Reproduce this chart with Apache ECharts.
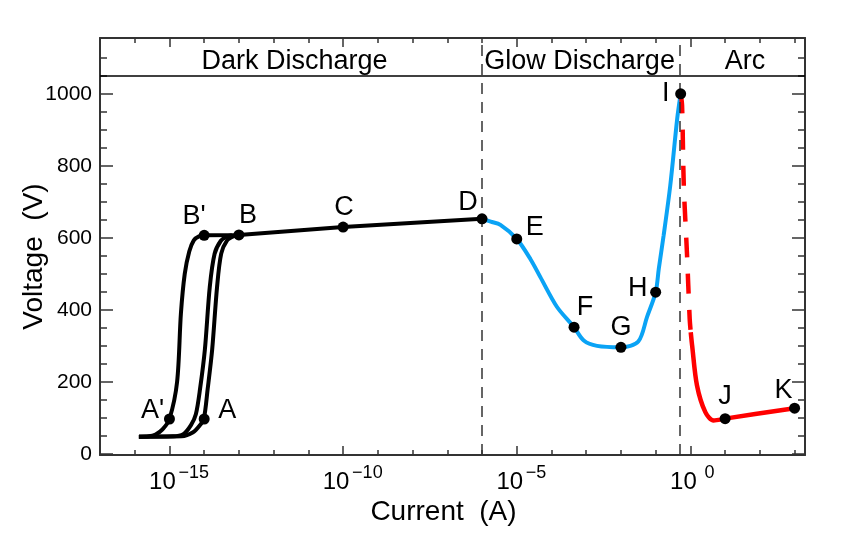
<!DOCTYPE html>
<html>
<head>
<meta charset="utf-8">
<script src="https://cdn.jsdelivr.net/npm/echarts@6/dist/echarts.min.js"></script>
<style>
html, body { margin: 0; padding: 0; background: #fff; }
#chart { width: 844px; height: 549px; }
</style>
</head>
<body>
<div id="chart"></div>
<script>
// x values are log10 of the current (A), y values are volts
var curveLeft = [[-15.88, 48], [-15.6, 49], [-15.4, 54], [-15.2, 68], [-15.0, 97], [-14.78, 200],
    [-14.67, 390], [-14.56, 500], [-14.43, 562], [-14.3, 593], [-14.15, 604], [-14.0, 607]];
var curveMid = [[-15.88, 48], [-14.9, 49], [-14.6, 55], [-14.38, 80], [-14.24, 110], [-14.12, 180],
    [-13.98, 290], [-13.84, 463], [-13.7, 556], [-13.52, 592], [-13.36, 603], [-13.2, 607]];
var curveRight = [[-15.88, 48], [-14.65, 49], [-14.32, 60], [-14.12, 80], [-14.01, 97], [-13.9, 180],
    [-13.77, 290], [-13.63, 463], [-13.51, 556], [-13.34, 593], [-13.15, 605], [-13.0, 608]];
var darkLine = [[-14, 607], [-13, 608], [-10, 630], [-6, 653]];
var glowCurve = [[-6.0, 653], [-5.75, 645], [-5.47, 636], [-5.0, 597], [-4.6, 540], [-4.32, 491],
    [-3.84, 408], [-3.35, 352], [-3.07, 315], [-2.69, 300], [-2.0, 296], [-1.5, 312], [-1.25, 380],
    [-1.0, 449], [-0.91, 514], [-0.77, 607], [-0.58, 745], [-0.38, 931], [-0.28, 1000]];
var arcDashed = [[-0.28, 1000], [-0.24, 968], [-0.19, 745], [-0.1, 560], [-0.02, 375], [0.01, 338]];
var arcSolid = [[0.01, 338], [0.05, 301], [0.19, 190], [0.43, 116], [0.67, 93], [1.0, 98], [3.0, 127]];

var pointNames = ["A'", 'A', "B'", 'B', 'C', 'D', 'E', 'F', 'G', 'H', 'I', 'J', 'K'];
var pointX = [-15, -14, -14, -13, -10, -6, -5, -3.35, -2, -1, -0.28, 1, 3];
var pointY = [97, 97, 607, 608, 630, 653, 597, 352, 296, 449, 1000, 98, 127];

var regionNames = ['Dark Discharge', 'Glow Discharge', 'Arc'];
var regionX = [-11.4, -3.19, 1.57];
var regionY = [1090, 1090, 1090];
var regionBounds = [-6, -0.3];
var headerLevel = [1050];

var xLabelExps = [-15, -10, -5, 0];
var xTickExps = [-16, -15, -14, -13, -12, -11, -10, -9, -8, -7, -6, -5, -4, -3, -2, -1, 0, 1, 2, 3];
var yMajor = [0, 200, 400, 600, 800, 1000];
var yMinor = [50, 100, 150, 250, 300, 350, 450, 500, 550, 650, 700, 750, 850, 900, 950, 1050, 1100];

var FONT = 'Liberation Sans';
var FRAME = '#333';

// where each point label sits relative to its dot (px)
var labelOffset = {
    "A'": [-17, -8], 'A': [23, -8], "B'": [-10, -19], 'B': [9, -19], 'C': [1, -20],
    'D': [-14, -16], 'E': [18, -11], 'F': [11, -20], 'G': [0, -20], 'H': [-18, -4],
    'I': [-15, 0], 'J': [0, -22], 'K': [-11, -18]
};

function xAxisDef(pos, showLine, ticks, len, label) {
    return {
        type: 'value', min: -17, max: 3.3, position: pos,
        axisLine: { show: showLine, onZero: false, lineStyle: { color: FRAME, width: 2 } },
        axisTick: { show: true, inside: true, length: len, customValues: ticks,
            lineStyle: { color: FRAME, width: 1.5 } },
        axisLabel: label || { show: false },
        splitLine: { show: false }
    };
}

function yAxisDef(pos, showLine, ticks, len, labels) {
    return {
        type: 'value', min: -3, max: 1155, position: pos,
        axisLine: { show: showLine, onZero: false, lineStyle: { color: FRAME, width: 2 } },
        axisTick: { show: true, inside: true, length: len, customValues: ticks,
            lineStyle: { color: FRAME, width: 1.5 } },
        axisLabel: labels ? {
            show: true, margin: 8, customValues: yMajor,
            formatter: function (v) { return String(v); },
            fontFamily: FONT, fontSize: 21, color: '#000'
        } : { show: false },
        splitLine: { show: false }
    };
}

// the "10" of each power label, and its raised exponent on a twin axis
var baseLabel = {
    show: true, margin: 15, customValues: xLabelExps, align: 'center',
    padding: [0, 14, 0, 0], fontFamily: FONT, fontSize: 24, color: '#000',
    formatter: function () { return '10'; }
};
var expLabel = {
    show: true, margin: 9, customValues: xLabelExps, align: 'left',
    padding: [0, 0, 0, 9], fontFamily: FONT, fontSize: 18, color: '#000',
    formatter: function (v) { return v === 0 ? ' 0' : '\u2212' + Math.abs(v); }
};

var xAxes = [
    xAxisDef('bottom', true, xTickExps, 5, baseLabel),
    xAxisDef('bottom', false, xLabelExps, 9, expLabel),
    xAxisDef('top', true, xTickExps, 5, null),
    xAxisDef('top', false, xLabelExps, 9, null)
];
xAxes[0].name = 'Current  (A)';
xAxes[0].nameLocation = 'middle';
xAxes[0].nameGap = 43;
xAxes[0].nameMoveOverlap = false;
xAxes[0].nameTextStyle = { fontFamily: FONT, fontSize: 28, color: '#000', padding: [0, 18, 0, 0] };

var yAxes = [
    yAxisDef('left', true, yMajor, 13, true),
    yAxisDef('left', false, yMinor, 7, false),
    yAxisDef('right', true, yMajor, 13, false),
    yAxisDef('right', false, yMinor, 7, false)
];
yAxes[0].name = 'Voltage  (V)';
yAxes[0].nameLocation = 'middle';
yAxes[0].nameGap = 52;
yAxes[0].nameMoveOverlap = false;
yAxes[0].nameTextStyle = { fontFamily: FONT, fontSize: 28, color: '#000', padding: [0, 20, 0, 0] };

function curve(data, color, width, dash) {
    return {
        type: 'line', data: data, xAxisIndex: 0, yAxisIndex: 0,
        symbol: 'none', smooth: 0.3, silent: true,
        lineStyle: { color: color, width: width, type: dash || 'solid', cap: 'butt' },
        z: 3
    };
}

var pointData = pointNames.map(function (n, i) {
    return { name: n, value: [pointX[i], pointY[i]], label: { offset: labelOffset[n] } };
});

var regionData = regionNames.map(function (n, i) {
    return { name: n, value: [regionX[i], regionY[i]] };
});

var markData = regionBounds.map(function (b) {
    return { xAxis: b, lineStyle: { color: FRAME, width: 1.5, type: [11, 8] } };
});
markData.push({ yAxis: headerLevel[0], lineStyle: { color: '#000', width: 1.5, type: 'solid' } });

var chartDom = document.getElementById('chart');
var chart = echarts.init(chartDom);
var option = {
    animation: false,
    backgroundColor: '#fff',
    grid: { left: 100, right: 39, top: 38, bottom: 94, containLabel: false },
    xAxis: xAxes,
    yAxis: yAxes,
    series: [
        curve(curveLeft, '#000', 4),
        curve(curveMid, '#000', 4),
        curve(curveRight, '#000', 4),
        { type: 'line', data: darkLine, symbol: 'none', silent: true,
          lineStyle: { color: '#000', width: 4 }, z: 3 },
        curve(glowCurve, '#0aa3f5', 4),
        curve(arcDashed, '#ff0000', 4.5, [20, 16]),
        curve(arcSolid, '#ff0000', 4.5),
        {
            type: 'scatter', data: pointData, symbol: 'circle', symbolSize: 11,
            itemStyle: { color: '#000', opacity: 1 }, silent: true, z: 5,
            label: { show: true, position: 'inside', formatter: '{b}', align: 'center',
                verticalAlign: 'middle', fontFamily: FONT, fontSize: 27, color: '#000' }
        },
        {
            type: 'scatter', data: regionData, symbolSize: 0, silent: true, z: 4,
            itemStyle: { color: '#000', opacity: 1 },
            label: { show: true, position: 'inside', formatter: '{b}', align: 'center',
                verticalAlign: 'middle', fontFamily: FONT, fontSize: 27, color: '#000', opacity: 1 },
            markLine: { silent: true, symbol: ['none', 'none'], label: { show: false },
                data: markData, animation: false }
        }
    ]
};
chart.setOption(option);
</script>
</body>
</html>
